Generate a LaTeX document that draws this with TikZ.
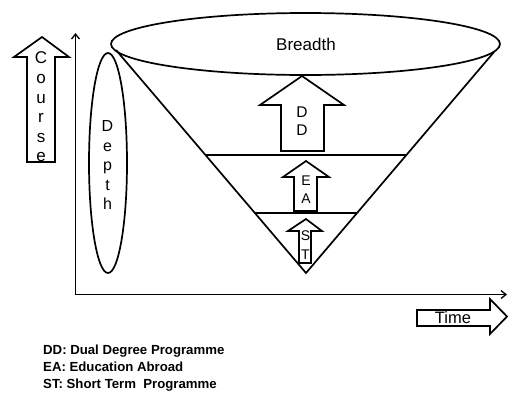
\documentclass[tikz,border=0pt]{standalone}
\usepackage{fontspec}
\setmainfont{Liberation Sans}
\usetikzlibrary{arrows.meta}
\begin{document}
\begin{tikzpicture}[x=1pt,y=-1pt,
  shape line/.style={line width=1.7pt, line join=miter},
  axis/.style={line width=1.6pt, -{Straight Barb[length=5pt,width=8pt,line width=1.3pt]}},
  stack/.style={align=center, inner sep=0pt},
  lbl/.style={inner sep=0pt}]
\useasboundingbox (0,0) rectangle (508,397);
% axes
\coordinate (O) at (75.5,294.5);
\coordinate (Ytip) at (75.5,33);
\coordinate (Xtip) at (507,294.5);
\draw[axis] (O) -- (Ytip);
\draw[axis] (O) -- (Xtip);
% cone
\coordinate (CL) at (116,50);
\coordinate (CR) at (494,52);
\coordinate (CA) at (306,273);
\draw[shape line] (CL) -- (CA) -- (CR);
\draw[shape line] (305.5,44) ellipse[x radius=194.5, y radius=31];
\node[lbl, font=\fontsize{17}{20}\selectfont] (breadth) at (306,44) {Breadth};
% levels
\coordinate (L1a) at (205.5,155);
\coordinate (L1b) at (405.5,155);
\coordinate (L2a) at (255,213);
\coordinate (L2b) at (357,213);
\draw[shape line] (L1a) -- (L1b);
\draw[shape line] (L2a) -- (L2b);
% DD arrow
\draw[shape line] (302,76) -- (344,105) -- (324,105) -- (324,151) -- (281,151) -- (281,105) -- (260,105) -- cycle;
\node[stack, font=\fontsize{15.5}{18.3}\selectfont] (dd) at (302,121) {D\\D};
% EA arrow
\draw[shape line] (306,161) -- (329,177) -- (317,177) -- (317,211) -- (294,211) -- (294,177) -- (283,177) -- cycle;
\node[stack, font=\fontsize{14}{18}\selectfont] (ea) at (306,190) {E\\A};
% ST arrow
\draw[shape line] (306,219) -- (322,231) -- (311,231) -- (311,263) -- (299,263) -- (299,231) -- (288,231) -- cycle;
\node[stack, font=\fontsize{14}{19}\selectfont] (st) at (305.5,245) {S\\T};
% Depth ellipse
\draw[shape line] (108,163) ellipse[x radius=19, y radius=110];
\node[stack, font=\fontsize{16}{19.5}\selectfont] (depth) at (107.5,165) {D\\e\\p\\t\\h};
% Course arrow
\draw[shape line] (42,37) -- (69,57) -- (55,57) -- (55,162) -- (27,162) -- (27,57) -- (14,57) -- cycle;
\node[stack, font=\fontsize{17}{19.6}\selectfont] (course) at (41,107) {C\\o\\u\\r\\s\\e};
% Time arrow
\draw[shape line] (417,310) -- (490,310) -- (490,299) -- (507,316.5) -- (490,334) -- (490,326) -- (417,326) -- cycle;
\node[lbl, font=\fontsize{16.5}{19}\selectfont] (time) at (453,318) {Time};
% legend
\node[anchor=north west, align=left, inner sep=0pt, font=\fontsize{13.2}{17}\selectfont\bfseries] (legend) at (43,345) {DD: Dual Degree Programme\\EA: Education Abroad\\ST: Short Term\ \ Programme};
\end{tikzpicture}
\end{document}
